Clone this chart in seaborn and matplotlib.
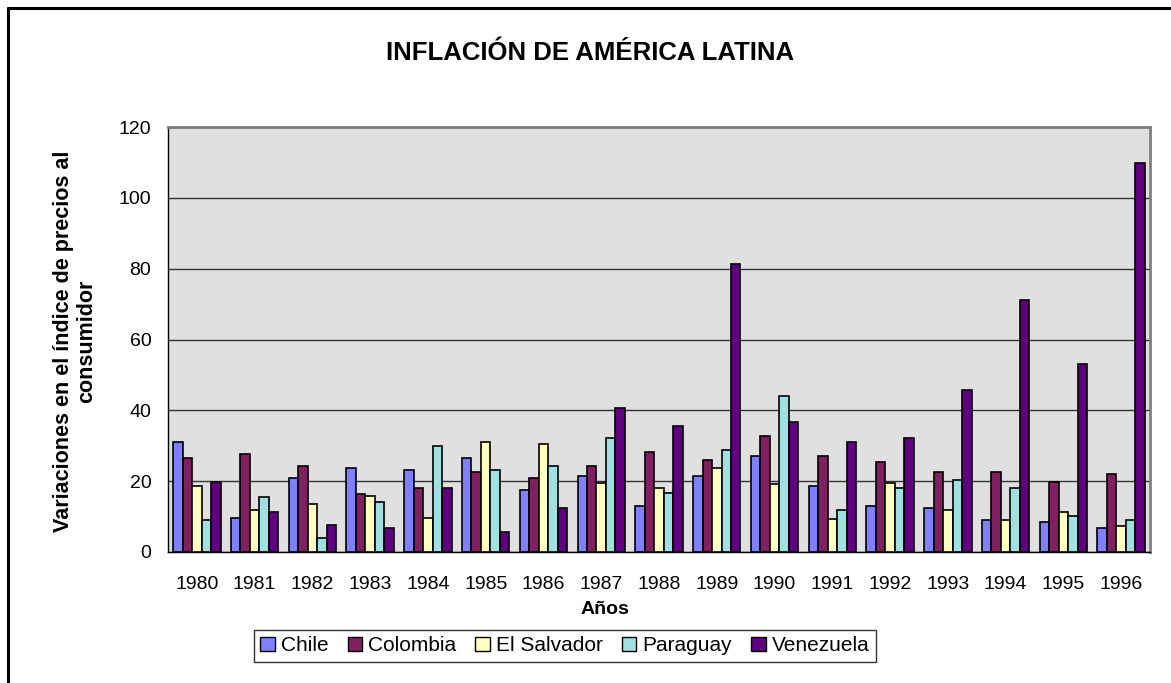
import numpy as np
import pandas as pd
import matplotlib
matplotlib.use("Agg")
import matplotlib.pyplot as plt
from matplotlib.lines import Line2D
import seaborn as sns

# Inflation (annual CPI variation, %) by country, 1980-1996
years = [str(y) for y in range(1980, 1997)]
countries = ["Chile", "Colombia", "El Salvador", "Paraguay", "Venezuela"]
chile = [31.1, 9.5, 20.9, 23.8, 23.2, 26.5, 17.5, 21.4, 13.0, 21.4, 27.1, 18.6, 13.0, 12.4, 9.0, 8.4, 6.7]
colombia = [26.6, 27.6, 24.2, 16.4, 18.1, 22.6, 20.9, 24.2, 28.2, 26.0, 32.7, 27.1, 25.4, 22.5, 22.5, 19.7, 22.0]
el_salvador = [18.6, 11.8, 13.6, 15.8, 9.5, 31.1, 30.5, 19.6, 18.0, 23.7, 19.2, 9.4, 19.6, 11.8, 9.0, 11.2, 7.3]
paraguay = [9.0, 15.4, 3.9, 14.2, 29.9, 23.1, 24.2, 32.2, 16.8, 28.9, 44.0, 11.8, 18.0, 20.3, 18.0, 10.1, 9.0]
venezuela = [19.7, 11.3, 7.5, 6.8, 18.1, 5.7, 12.5, 40.7, 35.6, 81.4, 36.7, 31.1, 32.2, 45.8, 71.2, 53.2, 109.7]
colors = ["#8080ff", "#802060", "#ffffc0", "#a0e0e0", "#600080"]

series = [chile, colombia, el_salvador, paraguay, venezuela]
df = pd.DataFrame({
    "Año": np.tile(years, len(countries)),
    "País": np.repeat(countries, len(years)),
    "Valor": np.concatenate(series),
})

sns.set_style("white")
plt.rcParams["font.family"] = ["Liberation Sans", "DejaVu Sans"]
plt.rcParams["text.color"] = "black"
plt.rcParams["xtick.color"] = "black"
plt.rcParams["ytick.color"] = "black"
plt.rcParams["axes.labelcolor"] = "black"

W, H = 1171, 683
fig = plt.figure(figsize=(W / 100, H / 100), dpi=100)
ax = fig.add_axes([168 / W, 1 - 552 / H, (1150 - 168) / W, (552 - 127) / H])
ax.set_facecolor("#e0e0e0")

sns.barplot(data=df, x="Año", y="Valor", hue="País", order=years,
            hue_order=countries, palette=dict(zip(countries, colors)),
            width=0.82, edgecolor="black", linewidth=1.2, saturation=1,
            ax=ax, legend=False, zorder=3)

ax.set_xlim(-0.5, len(years) - 0.5)
ax.set_ylim(0, 120)
ax.set_yticks(range(0, 121, 20))
ax.yaxis.grid(True, color="#333333", linewidth=1.0, zorder=1)
ax.set_axisbelow(True)

# Category ticks sit between groups; labels at group centres
ax.set_xticks(np.arange(len(years)))
ax.set_xticklabels(years)
ax.set_xticks(np.arange(-0.5, len(years)), minor=True)
ax.tick_params(axis="x", which="major", length=0, pad=17, labelsize=14, labelcolor="black")
ax.tick_params(axis="x", which="minor", length=6, width=1, color="black", direction="out")
ax.tick_params(axis="y", which="major", length=6, width=1, color="black",
               direction="out", pad=6, labelsize=14, labelcolor="black")
ax.set_xlabel("")
ax.set_ylabel("")

for side in ("left", "bottom"):
    ax.spines[side].set_color("black")
    ax.spines[side].set_linewidth(1.0)
for side in ("top", "right"):
    ax.spines[side].set_visible(True)
    ax.spines[side].set_color("#808080")
    ax.spines[side].set_linewidth(2.0)

fig.text(590 / W, 1 - 53 / H, "INFLACIÓN DE AMÉRICA LATINA", ha="center",
         va="center", fontsize=18.5, fontweight="bold", color="black")
fig.text(75 / W, 1 - 341 / H, "Variaciones en el índice de precios al\nconsumidor",
         rotation=90, ha="center", va="center", multialignment="center",
         fontsize=15.5, fontweight="bold", linespacing=1.15, color="black")
fig.text(605 / W, 1 - 609 / H, "Años", ha="center", va="center",
         fontsize=14, fontweight="bold", color="black")

handles = [plt.Rectangle((0, 0), 1, 1, facecolor=c, edgecolor="black", linewidth=1.0)
           for c in colors]
leg = fig.legend(handles, countries, loc="upper center",
                 bbox_to_anchor=(565 / W, 1 - 630 / H), ncol=5, fontsize=15,
                 frameon=True, fancybox=False, edgecolor="black",
                 handlelength=0.7, handleheight=0.7, handletextpad=0.3,
                 columnspacing=0.9, borderpad=0.3, borderaxespad=0)
leg.get_frame().set_linewidth(1.0)

# Outer chart frame
fig.add_artist(Line2D([8 / W, 8 / W], [0, 1 - 8 / H], transform=fig.transFigure,
                      color="black", linewidth=2.2))
fig.add_artist(Line2D([8 / W, 1], [1 - 8 / H, 1 - 8 / H], transform=fig.transFigure,
                      color="black", linewidth=2.2))

fig.savefig("out.png", dpi=100, facecolor="white")
